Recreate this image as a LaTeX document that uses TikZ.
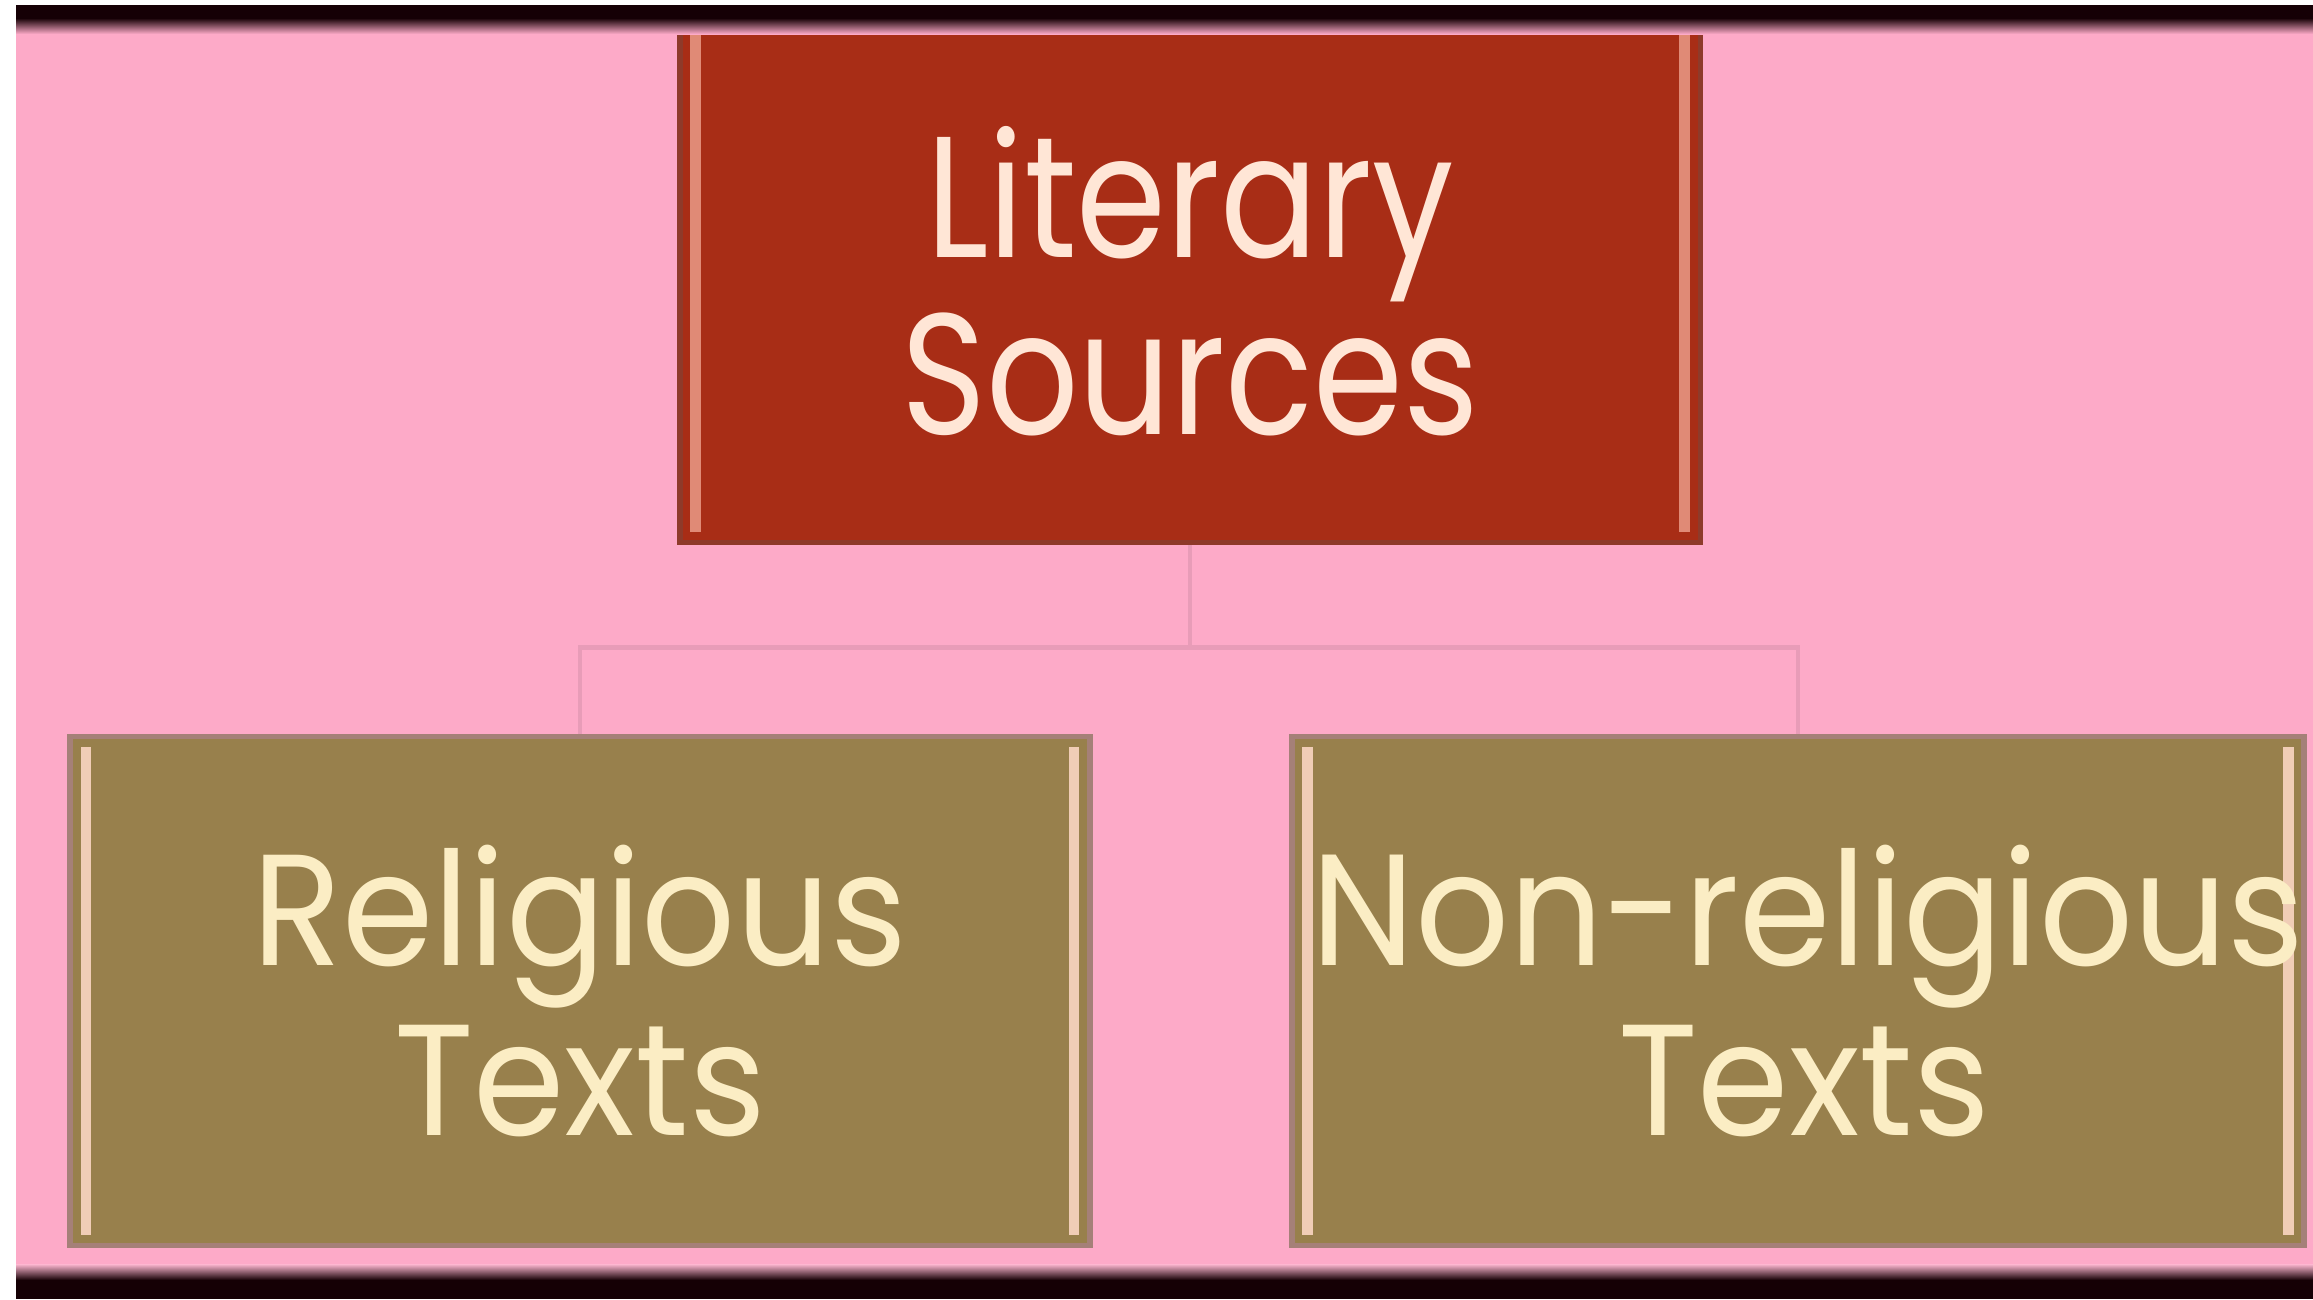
\documentclass[tikz,border=0pt]{standalone}
\usepackage{fontspec}
\newfontfamily\gfont{Poppins}[FakeStretch=0.84]
\newfontfamily\kfont{Poppins}[FakeStretch=0.93]
\definecolor{bgpink}{HTML}{FDAAC8}
\definecolor{topfill}{HTML}{A82D16}
\definecolor{topedge}{HTML}{8E3A2A}
\definecolor{toplight}{HTML}{E08A76}
\definecolor{kidfill}{HTML}{98804C}
\definecolor{kidedge}{HTML}{A58078}
\definecolor{kidlight}{HTML}{F0CDB6}
\definecolor{toptext}{HTML}{FFE6D6}
\definecolor{kidtext}{HTML}{FBEDC4}
\definecolor{connpink}{HTML}{E89CB8}
\definecolor{barblack}{HTML}{150005}
\tikzset{
  box/.style={rectangle, inner sep=0pt, draw=#1edge, line width=1.6pt, fill=#1fill,
    align=center, text=#1text,
    path picture={
      \draw[#1light, line width=3pt]
        ([xshift=4.5pt,yshift=-3pt]path picture bounding box.north west) --
        ([xshift=4.5pt,yshift=3pt]path picture bounding box.south west);
      \draw[#1light, line width=3pt]
        ([xshift=-4.5pt,yshift=-3pt]path picture bounding box.north east) --
        ([xshift=-4.5pt,yshift=3pt]path picture bounding box.south east);
    }},
  conn/.style={draw=connpink, line width=1.2pt}
}
\begin{document}
\begin{tikzpicture}[x=0.01cm, y=-0.01cm]
\useasboundingbox (0,0) rectangle (2313,1299);
% backdrop
\fill[white] (0,0) rectangle (2313,1299);
\fill[bgpink] (16,5) rectangle (2313,1299);
% boxes
\node[box=top, minimum width=10.2cm, minimum height=5.23cm,
      font=\gfont\fontsize{49}{50.5}\selectfont] (lit) at (1190,281) {Literary\\Sources};
\node[box=kid, minimum width=10.19cm, minimum height=5.09cm,
      font=\kfont\fontsize{45}{48.5}\selectfont] (rel) at (580,991) {Religious\\Texts};
\node[box=kid, minimum width=10.03cm, minimum height=5.09cm,
      font=\kfont\fontsize{45}{48.5}\selectfont] (non) at (1798,991)
      {\hspace*{0.2cm}Non-religious\\\hspace*{0.12cm}Texts};
% connectors
\draw[conn] (lit.south) -- ++(0,102) coordinate (split);
\draw[conn] (split) -| (rel.north);
\draw[conn] (split) -| (non.north);
% frame bars
\fill[barblack] (16,5) rectangle (2313,18);
\shade[top color=barblack, bottom color=bgpink] (16,18) rectangle (2313,34);
\shade[top color=bgpink!85!white, bottom color=barblack] (16,1264) rectangle (2313,1280);
\fill[barblack] (16,1280) rectangle (2313,1299);
\end{tikzpicture}
\end{document}
